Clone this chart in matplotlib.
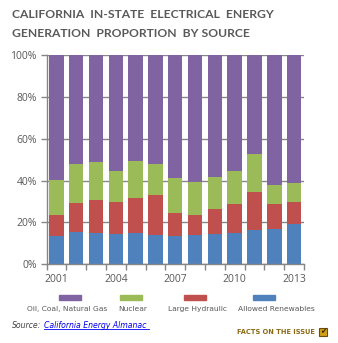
import matplotlib
matplotlib.use("Agg")
import matplotlib.pyplot as plt
from matplotlib.patches import Rectangle
import numpy as np

years = list(range(2001, 2014))
tick_years = [2001, 2004, 2007, 2010, 2013]
# cumulative tops (%)
renewables = [13.6, 15.5, 14.9, 14.5, 14.9, 13.9, 13.6, 13.9, 14.5, 14.9, 16.5, 16.8, 19.3]
hydro_top = [23.5, 29.2, 30.7, 29.7, 31.6, 33.1, 24.4, 23.5, 26.4, 28.9, 34.7, 28.9, 29.9]
nuclear_top = [40.3, 47.9, 48.9, 44.6, 49.4, 47.9, 41.4, 39.3, 41.7, 44.6, 52.9, 37.9, 38.8]

hydro = [h - r for h, r in zip(hydro_top, renewables)]
nuclear = [n - h for n, h in zip(nuclear_top, hydro_top)]
fossil = [100 - n for n in nuclear_top]

series_names = ["Allowed Renewables", "Large Hydraulic", "Nuclear", "Oil, Coal, Natural Gas"]
series_vals = [renewables, hydro, nuclear, fossil]
colors = ["#4F81BD", "#C0504D", "#9BBB59", "#8064A2"]

fig = plt.figure(figsize=(3.38, 3.43), dpi=100)
W, H = 338, 343
ax = fig.add_axes([46.5 / W, 1 - 264 / H, (304 - 46.5) / W, (264 - 55.3) / H])

x = np.arange(len(years))
bottom = np.zeros(len(years))
for vals, c in zip(series_vals, colors):
    ax.bar(x, vals, bottom=bottom, width=0.73, color=c, zorder=2, linewidth=0)
    bottom += np.array(vals)

ax.set_xlim(-0.5, len(years) - 0.5)
ax.set_ylim(0, 100)
ax.set_yticks(range(0, 101, 20))
ax.set_yticklabels([f"{v}%" for v in range(0, 101, 20)])
ax.yaxis.grid(True, color="#868686", linewidth=1.0, zorder=1)
ax.set_axisbelow(True)

ax.set_xticks([i - 0.5 for i in range(len(years) + 1)], minor=False)
ax.set_xticklabels([])
ax.set_xticks([years.index(y) for y in tick_years], minor=True)
ax.set_xticklabels([str(y) for y in tick_years], minor=True)
ax.tick_params(axis="x", which="minor", length=0, pad=7, labelsize=7.5, labelcolor="#595959")
ax.tick_params(axis="x", which="major", length=4, color="#868686", width=1)
ax.tick_params(axis="y", length=4, color="#868686", width=1, labelsize=7.5, labelcolor="#595959", pad=3)
for lab in ax.get_xticklabels(minor=True) + ax.get_yticklabels():
    lab.set_family("Open Sans")

for s in ["top", "right"]:
    ax.spines[s].set_visible(False)
for s in ["left", "bottom"]:
    ax.spines[s].set_color("#868686")
    ax.spines[s].set_linewidth(1)

# Title
fig.text(12 / W, 1 - 14.7 / H, "CALIFORNIA  IN-STATE  ELECTRICAL  ENERGY", fontsize=8.7,
         fontweight="bold", color="#595959", family="Lato", va="center", ha="left")
fig.text(12 / W, 1 - 33.5 / H, "GENERATION  PROPORTION  BY SOURCE", fontsize=8.7,
         fontweight="bold", color="#595959", family="Lato", va="center", ha="left")

# Legend (patch above label)
leg_order = [3, 2, 1, 0]
patch_centers = [70, 131, 195, 264]
label_centers = [67, 133, 198, 276]
for idx, pc, lc in zip(leg_order, patch_centers, label_centers):
    fig.patches.append(Rectangle(((pc - 11) / W, 1 - 300 / H), 22 / W, 5 / H,
                                 transform=fig.transFigure, color=colors[idx], figure=fig))
    fig.text(lc / W, 1 - 309 / H, series_names[idx], fontsize=5.4, color="#595959",
             ha="center", va="center", family="DejaVu Sans")

# Source
fig.text(12 / W, 1 - 325 / H, "Source:", fontsize=5.6, style="italic", color="#404040",
         ha="left", va="center", family="DejaVu Sans")
fig.text(44 / W, 1 - 325 / H, "California Energy Almanac", fontsize=5.6, style="italic",
         color="#0000EE", ha="left", va="center", family="DejaVu Sans")
fig.add_artist(plt.Line2D([44 / W, 149 / W], [1 - 328.5 / H, 1 - 328.5 / H],
                          transform=fig.transFigure, color="#0000EE", linewidth=0.6))

# Facts on the issue
fig.text(315 / W, 1 - 332 / H, "FACTS ON THE ISSUE", fontsize=4.8, color="#8B6914",
         ha="right", va="center", family="DejaVu Sans", fontweight="bold")
fig.patches.append(Rectangle((319 / W, 1 - 336 / H), 8 / W, 8 / H, transform=fig.transFigure,
                             facecolor="#D4A017", edgecolor="#6B4E0A", linewidth=0.8, figure=fig))
fig.text(323 / W, 1 - 331.5 / H, "✔", fontsize=5.5, color="#3A2A05", ha="center", va="center",
         family="DejaVu Sans")

fig.savefig("out.png", dpi=100)
